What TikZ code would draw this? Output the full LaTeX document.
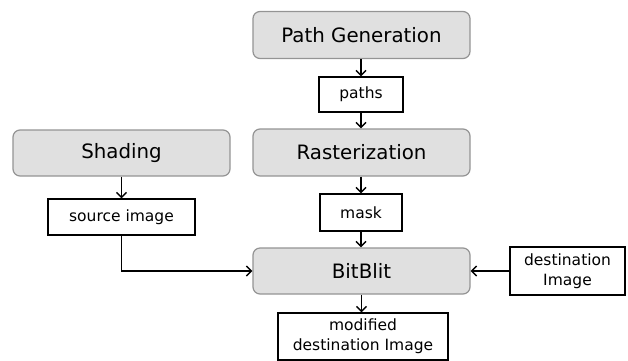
\documentclass[tikz,border=0pt]{standalone}
\usepackage{fontspec}
\setmainfont{DejaVu Sans}
\usetikzlibrary{arrows.meta}
\begin{document}
\begin{tikzpicture}[x=1pt,y=-1pt,
  proc/.style={draw=black!42,fill=black!12,line width=1.2pt,rounded corners=7pt,
    minimum width=217pt,minimum height=47pt,inner sep=0pt,
    font=\fontsize{19.8}{22}\selectfont},
  data/.style={draw=black,fill=white,line width=1.4pt,inner sep=0pt,align=center,
    font=\fontsize{15.5}{20}\selectfont},
  flow/.style={draw=black,line width=1.4pt,-{Straight Barb[length=5pt,width=10pt,line width=1.4pt]}}]
\useasboundingbox (0,0) rectangle (628,360);
\node[proc] (pg) at (361.5,35) {Path Generation};
\node[data,minimum width=84pt,minimum height=35pt] (paths) at (361,94.5) {paths};
\node[proc] (ras) at (361.5,152.5) {Rasterization};
\node[proc,minimum height=46pt] (shade) at (121.5,153) {Shading};
\node[data,minimum width=147pt,minimum height=36pt] (src) at (121.5,217) {source image};
\node[data,minimum width=82pt,minimum height=37pt] (mask) at (361,212.5) {mask};
\node[proc,minimum height=46pt] (bb) at (361.5,271) {BitBlit};
\node[data,minimum width=115pt,minimum height=48pt] (dst) at (567.5,271) {destination\\Image};
\node[data,minimum width=170pt,minimum height=47pt] (mod) at (363,336.5) {modified\\destination Image};
\draw[flow] (pg.south -| paths.north) -- (paths.north);
\draw[flow] (paths.south) -- (paths.south |- ras.north);
\draw[flow] (ras.south -| mask.north) -- (mask.north);
\draw[flow] (mask.south) -- (mask.south |- bb.north);
\draw[flow] (shade.south -| src.north) -- (src.north);
\draw[flow] (src.south) |- (bb.west);
\draw[flow] (dst.west) -- (bb.east);
\draw[flow] (bb.south) -- (bb.south |- mod.north);
\end{tikzpicture}
\end{document}
